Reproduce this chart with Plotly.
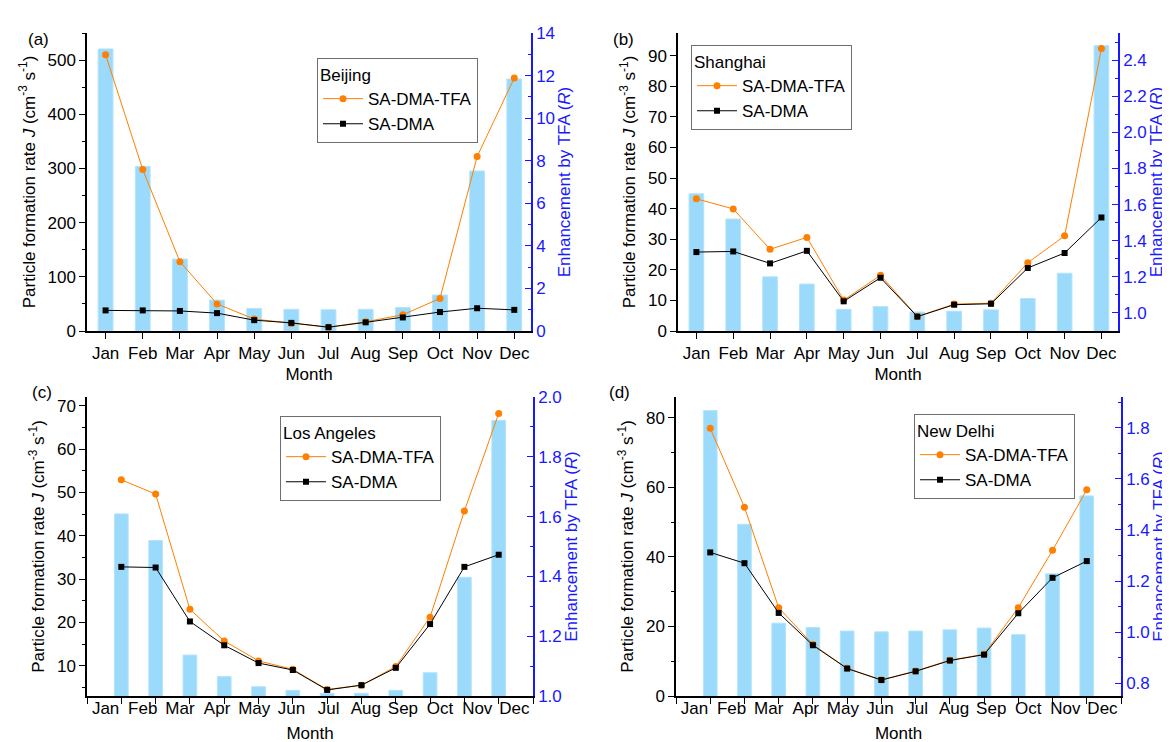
import plotly.graph_objects as go

# month labels and positions on the numeric x axis
months = ['Jan', 'Feb', 'Mar', 'Apr', 'May', 'Jun', 'Jul', 'Aug', 'Sep', 'Oct', 'Nov', 'Dec']
month_pos = [1, 2, 3, 4, 5, 6, 7, 8, 9, 10, 11, 12]

# Beijing
beijing_tfa = [510, 298, 128, 50, 22, 14, 7, 17, 30, 60, 322, 467]
beijing_dma = [38, 38, 37, 33, 20, 15, 7, 16, 25, 35, 42, 39]
beijing_r = [13.25, 7.73, 3.38, 1.45, 1.06, 1.02, 1.0, 1.02, 1.1, 1.69, 7.52, 11.84]

# Shanghai
shanghai_tfa = [43.2, 39.9, 26.7, 30.6, 10.1, 18.2, 4.7, 8.8, 9.1, 22.3, 31.1, 92.3]
shanghai_dma = [25.8, 26.0, 22.1, 26.2, 9.7, 17.4, 4.7, 8.6, 8.9, 20.6, 25.5, 37.1]
shanghai_r = [1.66, 1.52, 1.20, 1.16, 1.02, 1.035, 1.005, 1.01, 1.017, 1.08, 1.22, 2.48]

# Los Angeles
la_tfa = [52.9, 49.6, 23.0, 15.7, 11.1, 9.15, 4.5, 5.5, 9.8, 21.2, 45.7, 68.2]
la_dma = [32.8, 32.65, 20.2, 14.7, 10.6, 9.0, 4.4, 5.5, 9.5, 19.6, 32.8, 35.6]
la_r = [1.609, 1.52, 1.137, 1.065, 1.031, 1.019, 1.009, 1.009, 1.019, 1.078, 1.397, 1.922]

# New Delhi
delhi_tfa = [77.0, 54.3, 25.4, 14.8, 7.95, 4.6, 7.2, 10.3, 12.0, 25.4, 41.9, 59.3]
delhi_dma = [41.3, 38.2, 23.9, 14.6, 7.9, 4.6, 7.1, 10.2, 11.9, 23.8, 34.0, 38.8]
delhi_r = [1.867, 1.422, 1.035, 1.018, 1.004, 1.001, 1.004, 1.009, 1.016, 0.99, 1.228, 1.533]

FONT = 'Liberation Sans, Arial, sans-serif'
BLUE = 'rgb(25,25,255)'
ORANGE = 'rgb(255,128,0)'
BAR_FILL = 'rgb(155,218,250)'
BAR_EDGE = 'rgb(180,228,252)'

W, H = 1170, 742

panels = [
    dict(city='Beijing', tag='(a)', tfa=beijing_tfa, dma=beijing_dma, r=beijing_r,
         px=(79, 523), py=(25, 323), xrange=[0.5, 12.45], spread=False,
         jrange=[0, 550], jdtick=100, jminor=50, rrange=[0, 14], rdtick=2, rminor=1, rfmt='d',
         leg=(309, 50), tagpos=(18, 20)),
    dict(city='Shanghai', tag='(b)', tfa=shanghai_tfa, dma=shanghai_dma, r=shanghai_r,
         px=(670, 1110), py=(25, 323), xrange=[0.5, 12.45], spread=False,
         jrange=[0, 97.4], jdtick=10, jminor=None, rrange=[0.9, 2.55], rdtick=0.2, rminor=0.1, rfmt='.1f',
         leg=(683, 37), tagpos=(615, 20)),
    dict(city='Los Angeles', tag='(c)', tfa=la_tfa, dma=la_dma, r=la_r,
         px=(79, 525), py=(389, 688), xrange=[0, 13], spread=True,
         jrange=[3, 72], jdtick=10, jminor=5, rrange=[1.0, 2.0], rdtick=0.2, rminor=0.1, rfmt='.1f',
         leg=(272, 408), tagpos=(22, 384)),
    dict(city='New Delhi', tag='(d)', tfa=delhi_tfa, dma=delhi_dma, r=delhi_r,
         px=(668, 1113), py=(389, 688), xrange=[0, 13], spread=True,
         jrange=[0, 86], jdtick=20, jminor=10, rrange=[0.75, 1.92], rdtick=0.2, rminor=0.1, rfmt='.1f',
         leg=(906, 406), tagpos=(611, 384)),
]


def ax_key(kind, n):
    return kind + 'axis' + ('' if n == 1 else str(n))


def ax_ref(kind, n):
    return kind + ('' if n == 1 else str(n))


fig = go.Figure()
layout = {}
annotations = []

for i, p in enumerate(panels):
    xb, xt, xl = 3 * i + 1, 3 * i + 2, 3 * i + 3
    yb, yl = 2 * i + 1, 2 * i + 2
    leg_name = 'legend' if i == 0 else 'legend' + str(i + 1)

    xdom = [p['px'][0] / W, p['px'][1] / W]
    ydom = [1 - p['py'][1] / H, 1 - p['py'][0] / H]

    # bars: enhancement ratio on the right axis
    fig.add_trace(go.Bar(
        x=month_pos, y=p['r'], width=0.4,
        marker=dict(color=BAR_FILL, line=dict(color=BAR_EDGE, width=1)),
        xaxis=ax_ref('x', xb), yaxis=ax_ref('y', yb),
        showlegend=False, hoverinfo='x+y',
    ))
    # lines: formation rates on the left axis
    fig.add_trace(go.Scatter(
        x=month_pos, y=p['tfa'], mode='lines+markers', name='SA-DMA-TFA',
        line=dict(color=ORANGE, width=1),
        marker=dict(symbol='circle', size=7, color=ORANGE),
        xaxis=ax_ref('x', xb), yaxis=ax_ref('y', yl), legend=leg_name,
    ))
    fig.add_trace(go.Scatter(
        x=month_pos, y=p['dma'], mode='lines+markers', name='SA-DMA',
        line=dict(color='black', width=1),
        marker=dict(symbol='square', size=6, color='black'),
        xaxis=ax_ref('x', xb), yaxis=ax_ref('y', yl), legend=leg_name,
    ))

    tick_pos = list(range(0, 14)) if p['spread'] else month_pos
    title_font = dict(size=17, family=FONT, color='black')

    # bottom axis
    bottom = dict(
        domain=xdom, anchor=ax_ref('y', yb), range=p['xrange'],
        tickvals=tick_pos, ticks='outside', ticklen=6, tickwidth=1.2, tickcolor='black',
        showline=True, linecolor='black', linewidth=1.5,
        showgrid=False, zeroline=False, automargin=False,
        tickfont=dict(size=17, family=FONT, color='black'),
    )
    if p['spread']:
        bottom['showticklabels'] = False
        bottom['title'] = dict(text='Month', font=title_font, standoff=24)
    else:
        bottom['ticktext'] = months
        bottom['title'] = dict(text='Month', font=title_font, standoff=6)
    layout[ax_key('x', xb)] = bottom

    # top frame with inward ticks
    layout[ax_key('x', xt)] = dict(
        overlaying=ax_ref('x', xb), anchor=ax_ref('y', yb), side='top', range=p['xrange'],
        tickvals=tick_pos, ticks='inside', ticklen=5, tickwidth=1.2, tickcolor='black',
        showticklabels=False, showline=True, linecolor='black', linewidth=1.5,
        showgrid=False, zeroline=False, automargin=False,
    )

    # month labels spread across the full axis width (panels c and d)
    if p['spread']:
        fig.add_trace(go.Scatter(
            x=months, y=[None] * len(months), mode='markers', showlegend=False, hoverinfo='skip',
            xaxis=ax_ref('x', xl), yaxis=ax_ref('y', yb),
        ))
        layout[ax_key('x', xl)] = dict(
            type='category', overlaying=ax_ref('x', xb), anchor=ax_ref('y', yb), side='bottom',
            range=[-0.5, 11.5], ticks='',
            showline=False, showgrid=False, zeroline=False, automargin=False,
            tickfont=dict(size=17, family=FONT, color='black'),
        )

    # right axis (ratio R)
    layout[ax_key('y', yb)] = dict(
        domain=ydom, anchor=ax_ref('x', xb), side='right', range=p['rrange'],
        dtick=p['rdtick'], tick0=0, tickformat=p['rfmt'],
        ticks='inside', ticklen=6, tickwidth=1.2, tickcolor=BLUE,
        showline=True, linecolor=BLUE, linewidth=1.5,
        showgrid=False, zeroline=False, automargin=False,
        tickfont=dict(size=17, family=FONT, color=BLUE),
        title=dict(text='Enhancement by TFA (<i>R</i>)', font=dict(size=17, family=FONT, color=BLUE), standoff=3),
        minor=dict(dtick=p['rminor'], ticks='inside', ticklen=3, tickcolor=BLUE, showgrid=False),
    )

    # left axis (J)
    left = dict(
        overlaying=ax_ref('y', yb), anchor=ax_ref('x', xb), side='left', range=p['jrange'],
        dtick=p['jdtick'], tick0=0,
        ticks='outside', ticklen=6, tickwidth=1.2, tickcolor='black',
        showline=True, linecolor='black', linewidth=1.5,
        showgrid=False, zeroline=False, automargin=False,
        tickfont=dict(size=17, family=FONT, color='black'),
        title=dict(text='Particle formation rate <i>J</i> (cm<sup>-3</sup> s<sup>-1</sup>)',
                   font=dict(size=17, family=FONT, color='black'), standoff=8),
    )
    if p['jminor']:
        left['minor'] = dict(dtick=p['jminor'], ticks='outside', ticklen=3, tickcolor='black', showgrid=False)
    layout[ax_key('y', yl)] = left

    # legend for this panel
    layout[leg_name] = dict(
        x=p['leg'][0] / W, y=1 - p['leg'][1] / H, xanchor='left', yanchor='top',
        title=dict(text=p['city'], font=dict(size=17, family=FONT, color='black')),
        font=dict(size=17, family=FONT, color='black'),
        bgcolor='white', bordercolor='rgb(110,110,110)', borderwidth=1,
        tracegroupgap=0, itemwidth=40,
    )

    annotations.append(dict(
        text=p['tag'], x=p['tagpos'][0] / W, y=1 - p['tagpos'][1] / H,
        xref='paper', yref='paper', showarrow=False,
        font=dict(size=17, family=FONT, color='black'),
    ))

fig.update_layout(
    width=W, height=H,
    margin=dict(l=0, r=0, t=0, b=0),
    paper_bgcolor='white', plot_bgcolor='white',
    font=dict(family=FONT, color='black'),
    annotations=annotations,
    **layout,
)

fig.write_html("out.html")
